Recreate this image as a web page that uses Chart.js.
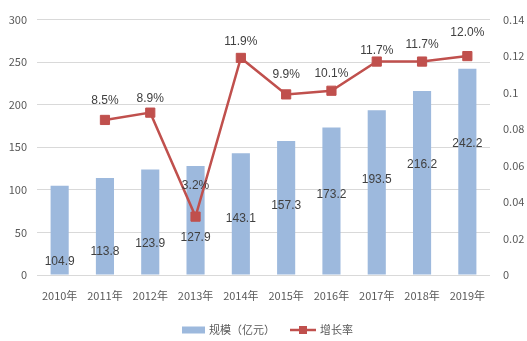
<!DOCTYPE html>
<html><head><meta charset="utf-8">
<script src="https://cdn.jsdelivr.net/npm/chart.js@4/dist/chart.umd.min.js"></script>
<style>html,body{margin:0;padding:0;background:#fff}#wrap{width:527px;height:341px}</style>
</head><body><div id="wrap"><canvas id="c" width="527" height="341"></canvas></div>
<script>
const categories = ['2010年','2011年','2012年','2013年','2014年','2015年','2016年','2017年','2018年','2019年'];
const scaleValues = [104.9,113.8,123.9,127.9,143.1,157.3,173.2,193.5,216.2,242.2];
const growthRates = [null,0.085,0.089,0.032,0.119,0.099,0.101,0.117,0.117,0.120];
const growthLabels = ['', '8.5%','8.9%','3.2%','11.9%','9.9%','10.1%','11.7%','11.7%','12.0%'];
const seriesNames = ['规模（亿元）','增长率'];
// where the reference places its data labels (left-axis units / right-axis units)
const barLabelAnchor = [15.8,27,36.4,44,65.8,81.6,94.7,112.4,129,154];
const lineLabelAnchor = [null,0.0953,0.0965,0.0489,0.1277,0.1096,0.1105,0.1232,0.1263,0.1326];

const BAR = '#9db9dd', LINE = '#c0504d', TXT = '#595959', LBL = '#404040';
const cjk = '"Noto Sans CJK SC","Noto Sans",sans-serif';

const labelPlugin = {
  id: 'labels',
  afterDatasetsDraw(chart) {
    const ctx = chart.ctx, x = chart.scales.x, y = chart.scales.y, y1 = chart.scales.y1;
    ctx.save();
    ctx.font = '12px "Liberation Sans", Arial, sans-serif';
    ctx.fillStyle = LBL; ctx.textAlign = 'center'; ctx.textBaseline = 'middle';
    scaleValues.forEach((v, i) => {
      ctx.fillText(v.toFixed(1), x.getPixelForValue(i), y.getPixelForValue(barLabelAnchor[i]));
    });
    growthRates.forEach((v, i) => {
      if (v == null) return;
      ctx.fillText(growthLabels[i], x.getPixelForValue(i), y1.getPixelForValue(lineLabelAnchor[i]));
    });
    ctx.restore();
  },
  afterDraw(chart) {
    const ctx = chart.ctx;
    ctx.save();
    ctx.font = '11px ' + cjk;
    ctx.textBaseline = 'middle'; ctx.textAlign = 'left';
    const w1 = ctx.measureText(seriesNames[0]).width, w2 = ctx.measureText(seriesNames[1]).width;
    const total = 23 + 4 + w1 + 15 + 26 + 4 + w2;
    let sx = chart.width / 2 + 4 - total / 2;
    const cy = chart.chartArea.bottom + 55;
    ctx.fillStyle = BAR; ctx.fillRect(sx, cy - 3.5, 23, 7);
    sx += 27; ctx.fillStyle = TXT; ctx.fillText(seriesNames[0], sx, cy);
    sx += w1 + 15;
    ctx.strokeStyle = LINE; ctx.lineWidth = 2.5; ctx.beginPath(); ctx.moveTo(sx, cy); ctx.lineTo(sx + 26, cy); ctx.stroke();
    ctx.fillStyle = LINE; ctx.fillRect(sx + 13 - 4, cy - 4, 8, 8);
    sx += 30; ctx.fillStyle = TXT; ctx.fillText(seriesNames[1], sx, cy);
    ctx.restore();
  }
};

new Chart(document.getElementById('c'), {
  data: {
    labels: categories,
    datasets: [
      { type: 'bar', label: seriesNames[0], data: scaleValues, backgroundColor: BAR, yAxisID: 'y',
        barPercentage: 0.4, categoryPercentage: 1, order: 1 },
      { type: 'line', label: seriesNames[1], data: growthRates, yAxisID: 'y1', borderColor: LINE,
        backgroundColor: LINE, borderWidth: 2.5, pointStyle: 'rect', pointRadius: 6.5, pointBorderWidth: 1,
        pointBackgroundColor: LINE, pointBorderColor: LINE, tension: 0, spanGaps: false, order: 0 }
    ]
  },
  options: {
    responsive: false, animation: false,
    layout: { padding: { top: 9, bottom: 26, left: 0, right: 0 } },
    plugins: { legend: { display: false }, tooltip: { enabled: false } },
    scales: {
      x: {
        grid: { display: false, drawTicks: false }, border: { display: false },
        ticks: { color: TXT, font: { family: cjk, size: 11 }, padding: 14, maxRotation: 0 },
        afterFit(s) { s.height = 40; }
      },
      y: {
        position: 'left', min: 0, max: 300,
        grid: { color: '#d9d9d9', drawTicks: false }, border: { display: false },
        ticks: { stepSize: 50, color: TXT, font: { family: cjk, size: 11 }, padding: 10 },
        afterFit(s) { s.width = 37; }
      },
      y1: {
        position: 'right', min: 0, max: 0.14,
        grid: { display: false, drawTicks: false }, border: { display: false },
        ticks: { stepSize: 0.02, color: TXT, font: { family: cjk, size: 11 }, padding: 13,
          callback: v => String(parseFloat(v.toFixed(2))) },
        afterFit(s) { s.width = 37; }
      }
    }
  },
  plugins: [labelPlugin]
});
</script></body></html>
